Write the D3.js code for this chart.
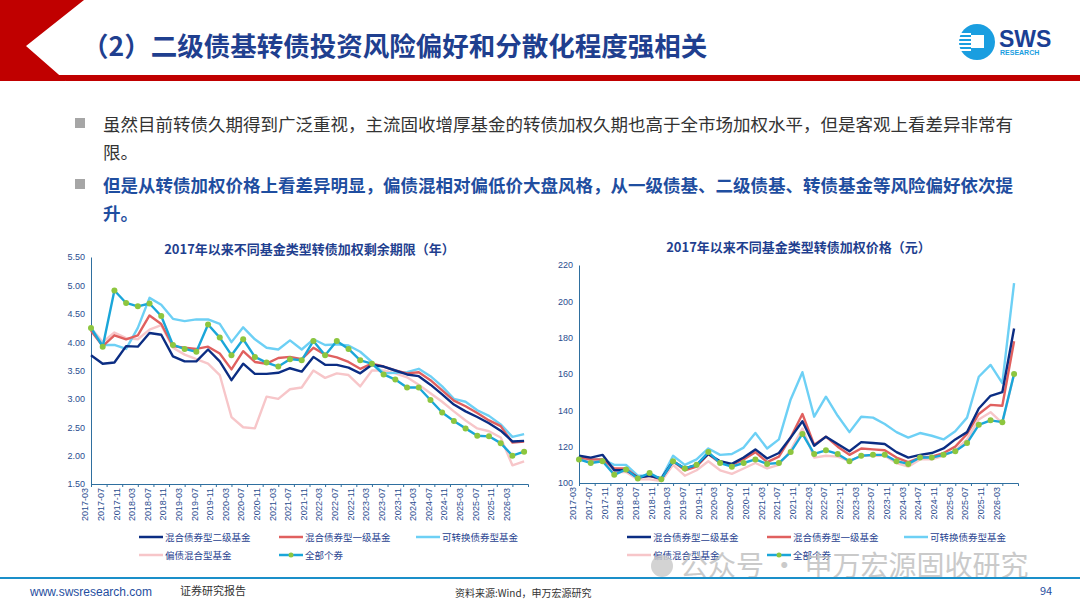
<!DOCTYPE html>
<html><head><meta charset="utf-8">
<script src="https://cdn.jsdelivr.net/npm/d3@7"></script>
<style>
body{margin:0;background:#fff;font-family:"Noto Sans CJK SC","Noto Sans",sans-serif;}
</style></head>
<body><svg id="c" width="1080" height="608"></svg>
<script>
// quarterly points 2017-03 .. 2026-06
const months = d3.range(0, 112, 3);
const tickMonths = d3.range(0, 109, 4);
const names = ["混合债券型二级基金","混合债券型一级基金","可转换债券型基金","偏债混合型基金","全部个券"];
const colors = ["#0b2d83","#e0605f","#6dd0f5","#f7c6c9","#1aa6d9"];

const durEr = [3.77,3.62,3.64,3.93,3.92,4.16,4.13,3.75,3.66,3.66,3.87,3.66,3.33,3.62,3.44,3.44,3.46,3.54,3.48,3.74,3.60,3.60,3.55,3.45,3.60,3.57,3.50,3.43,3.40,3.25,3.08,2.90,2.78,2.68,2.57,2.44,2.25,2.26];
const durYi = [4.20,3.93,4.12,4.05,4.12,4.47,4.32,3.93,3.90,3.88,3.92,3.80,3.52,3.84,3.65,3.62,3.72,3.74,3.70,3.90,3.78,3.73,3.65,3.53,3.62,3.57,3.50,3.45,3.47,3.33,3.15,2.97,2.87,2.75,2.62,2.52,2.23,2.25];
const durKzz = [4.25,3.95,3.95,3.88,4.25,4.78,4.66,4.41,4.37,4.40,4.40,4.32,4.00,4.26,4.05,3.90,3.87,4.03,3.87,4.05,3.95,3.96,3.94,3.83,3.65,3.45,3.46,3.47,3.53,3.40,3.22,3.00,2.95,2.80,2.70,2.55,2.33,2.38];
const durPz = [4.25,4.00,4.17,4.07,4.05,4.22,4.30,3.90,3.78,3.70,3.62,3.42,2.68,2.50,2.48,3.04,3.00,3.17,3.20,3.50,3.37,3.45,3.42,3.22,3.50,3.50,3.45,3.38,3.25,3.10,2.95,2.78,2.62,2.48,2.43,2.32,1.83,1.90];
const durAll = [4.25,3.92,4.91,4.69,4.63,4.68,4.46,3.95,3.88,3.83,4.31,4.08,3.77,4.05,3.74,3.64,3.57,3.70,3.68,4.02,3.77,4.02,3.88,3.68,3.62,3.43,3.34,3.20,3.20,2.98,2.76,2.61,2.48,2.35,2.34,2.22,2.00,2.07];

const prEr = [115,114,115.5,107,107,103,104,102.5,112,108,110,116,112,110.5,114,118.5,113.5,116.5,125,134,120.5,125.5,121.5,117.5,122.5,122,121.5,117,114,115.5,116.5,119,124,128,141,148,150,185];
const prYi = [114,113,113,108,108,103,104,102,112,107,109,116,111,110,113,117,111.5,114.5,125,138,121,125.5,120,115.5,119,118.5,118,114,111.5,114,114.5,116.5,120,127,138,143,142.5,178];
const prKzz = [115,113,113,110,110,104,104,102.5,115,110,113,119,115.5,116,119.5,127.5,119,124,146,161,136.5,147.5,137,128,136.5,136,132.5,128,125,127.5,126,124,128.5,136,158.5,165,155,210];
const prPz = [114,112,112,106,106,102,102,101,110,104,107,112,107,105,108,111,108,110,118,130,114,115,114.5,112,115,115,115,111,109,113,113,115,118,124,135,139,133,160];
const prAll = [113,111,112,104.5,107.5,102.5,105.5,102,112,108,110,117,111,109,111,113,110.5,111,117,127,116,118,116,112,115,115.5,115.5,112,110.5,114,114,115.5,117.5,122,132,134.5,133.5,160];

const svg = d3.select("#c");
const navy = "#1f3f8f";

// header
svg.append("path").attr("d","M0,0 L84,0 L26,46 L66,81 L0,81 Z").attr("fill","#c00000");
svg.append("path").attr("d","M22,75 L1080,75 L1080,81 L66,81 Z").attr("fill","#c00000");
svg.append("text").attr("x",82).attr("y",56).attr("font-size",26.5).attr("font-weight","bold")
  .attr("fill","#1f3f8f").text("（2）二级债基转债投资风险偏好和分散化程度强相关");
// logo
svg.append("circle").attr("cx",977).attr("cy",42).attr("r",18).attr("fill","#1a9ee0");
svg.append("rect").attr("x",971).attr("y",35).attr("width",13).attr("height",13).attr("fill","#fff");
[0,1,2,3,4].forEach(i=>svg.append("rect").attr("x",959).attr("y",33+i*4).attr("width",12).attr("height",2).attr("fill","#fff"));
svg.append("text").attr("x",999).attr("y",47).attr("font-size",23).attr("font-weight","bold").attr("fill","#1b3f94").attr("font-family","Liberation Sans").text("SWS");
svg.append("text").attr("x",1000).attr("y",55).attr("font-size",7).attr("font-weight","bold").attr("fill","#1a9ee0").attr("font-family","Liberation Sans").text("RESEARCH");

// bullets
const bl = [
  {y:131, t:"虽然目前转债久期得到广泛重视，主流固收增厚基金的转债加权久期也高于全市场加权水平，但是客观上看差异非常有", b:false},
  {y:159, t:"限。", b:false},
  {y:192, t:"但是从转债加权价格上看差异明显，偏债混相对偏低价大盘风格，从一级债基、二级债基、转债基金等风险偏好依次提", b:true},
  {y:220, t:"升。", b:true}];
svg.append("rect").attr("x",75).attr("y",118).attr("width",10).attr("height",10).attr("fill","#a6a6a6");
svg.append("rect").attr("x",75).attr("y",179).attr("width",10).attr("height",10).attr("fill","#a6a6a6");
bl.forEach(d=>svg.append("text").attr("x",103).attr("y",d.y).attr("font-size",17.5)
  .attr("font-weight",d.b?"bold":"normal").attr("fill",d.b?"#1f4ea0":"#333").text(d.t));

function fmtMonth(m){ const y=2017+Math.floor((m+2)/12), mm=((m+2)%12)+1; return y+"-"+String(mm).padStart(2,"0"); }

function chart(o){
  const g = svg.append("g");
  const x = d3.scaleLinear().domain([0,112]).range([o.x0,o.x1]);
  const y = d3.scaleLinear().domain(o.dom).range([o.y1,o.y0]);
  g.append("text").attr("x",(o.x0+o.x1)/2).attr("y",o.ty).attr("text-anchor","middle")
    .attr("font-size",13).attr("font-weight","bold").attr("fill",navy).text(o.title);
  const ya = g.append("g").attr("transform",`translate(${o.x0},0)`)
    .call(d3.axisLeft(y).tickValues(o.ticks).tickFormat(o.fmt).tickSize(0).tickPadding(6));
  const xa = g.append("g").attr("transform",`translate(0,${o.y1})`)
    .call(d3.axisBottom(x).tickValues(tickMonths).tickFormat(fmtMonth).tickSize(3));
  [ya,xa].forEach(a=>{a.select(".domain").attr("stroke","#2f6f9f");a.selectAll("line").attr("stroke","#2f6f9f");
    a.selectAll("text").attr("fill","#2a4d8f").attr("font-size",9).attr("font-family","Liberation Sans");});
  xa.selectAll("text").attr("transform","rotate(-90)").attr("text-anchor","end").attr("dx","-4").attr("dy","-0.35em").attr("x",0).attr("y",0);
  const line = d3.line().x((d,i)=>x(months[i])).y(d=>y(d));
  const order=[3,2,1,0,4];
  order.forEach(k=>g.append("path").datum(o.series[k]).attr("d",line).attr("fill","none")
    .attr("stroke",colors[k]).attr("stroke-width",2.4).attr("stroke-linejoin","round"));
  g.selectAll(".dot").data(o.series[4]).join("circle").attr("cx",(d,i)=>x(months[i])).attr("cy",d=>y(d))
    .attr("r",3).attr("fill","#8dc63f");
  // legend
  const lx=o.x0+48;
  const pos=[[lx,537],[lx+140,537],[lx+277,537],[lx,555],[lx+140,555]];
  names.forEach((n,k)=>{
    const [px,py]=pos[k];
    g.append("line").attr("x1",px).attr("x2",px+24).attr("y1",py).attr("y2",py).attr("stroke",colors[k]).attr("stroke-width",2.5);
    if(k===4) g.append("circle").attr("cx",px+12).attr("cy",py).attr("r",2.5).attr("fill","#8dc63f");
    g.append("text").attr("x",px+26).attr("y",py+4).attr("font-size",9.5).attr("fill",navy).text(n);
  });
}

chart({x0:91,x1:528,y0:257,y1:484,dom:[1.5,5.5],ticks:d3.range(1.5,5.51,0.5),fmt:d3.format(".2f"),
  ty:254,title:"2017年以来不同基金类型转债加权剩余期限（年）",series:[durEr,durYi,durKzz,durPz,durAll]});
chart({x0:579,x1:1018,y0:265,y1:483,dom:[100,220],ticks:d3.range(100,221,20),fmt:d3.format("d"),
  ty:252,title:"2017年以来不同基金类型转债加权价格（元）",series:[prEr,prYi,prKzz,prPz,prAll]});

// watermark
svg.append("circle").attr("cx",662).attr("cy",566).attr("r",11).attr("fill","#c8c8c8").attr("opacity",0.8);
svg.append("text").attr("x",680).attr("y",576).attr("font-size",28).attr("fill","#bdbdbd").attr("opacity",0.8).text("公众号 · 申万宏源固收研究");

// footer
svg.append("rect").attr("x",0).attr("y",577).attr("width",1080).attr("height",2).attr("fill","#1a8fc9");
svg.append("text").attr("x",30).attr("y",596).attr("font-size",12).attr("fill","#1f4ea0").attr("font-family","Liberation Sans").text("www.swsresearch.com");
svg.append("text").attr("x",180).attr("y",595).attr("font-size",11).attr("fill","#333").text("证券研究报告");
svg.append("text").attr("x",455).attr("y",597).attr("font-size",10).attr("fill","#333").text("资料来源:Wind，申万宏源研究");
svg.append("text").attr("x",1040).attr("y",595).attr("font-size",11).attr("fill","#1f4ea0").text("94");
</script></body></html>
